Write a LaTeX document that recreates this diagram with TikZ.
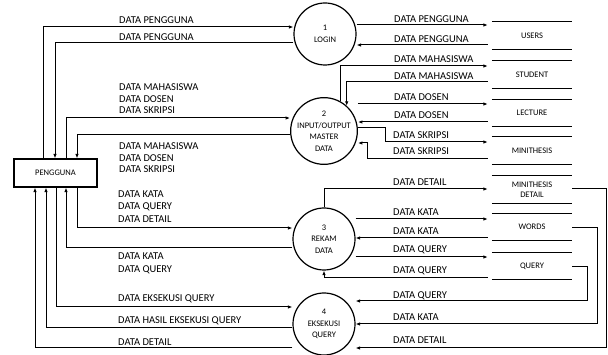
\documentclass[tikz,border=0pt]{standalone}
\usepackage{fontspec}
\setmainfont{Carlito}
\usetikzlibrary{arrows.meta}

\tikzset{
  proc/.style={draw, circle, line width=1.2pt, minimum size=62pt, inner sep=0pt,
               align=center, font=\fontsize{8.5}{11.5}\selectfont},
  ent/.style={draw, line width=1.2pt, minimum width=83pt, minimum height=28pt,
              font=\fontsize{8.5}{10}\selectfont},
  store/.style={minimum width=80pt, minimum height=27pt, inner sep=0pt,
                align=center, font=\fontsize{8.5}{10}\selectfont},
  storeline/.style={line width=1.1pt},
  flow/.style={line width=1pt, -{Latex[length=4.5pt,width=3.5pt]}},
  tostore/.style={flow, shorten >=4pt},
  fromstore/.style={flow, shorten <=4pt},
  lbl/.style={anchor=base west, inner sep=0pt, font=\fontsize{10.5}{12}\selectfont},
}

\begin{document}
\begin{tikzpicture}[x=1pt, y=-1pt]
  \useasboundingbox (0,0) rectangle (608,355);

  % external entity and processes
  \node[ent] (user) at (55.5,173) {PENGGUNA};
  \node[proc] (c1) at (325,34) {1\\LOGIN};
  \node[proc] (c2) at (324,131) {2\\INPUT/OUTPUT\\MASTER\\DATA};
  \node[proc] (c3) at (324,239) {3\\REKAM\\DATA};
  \node[proc] (c4) at (324,324) {4\\EKSEKUSI\\QUERY};

  % data stores
  \node[store] (users) at (532,35.5) {USERS};
  \node[store] (student) at (532,74.5) {STUDENT};
  \node[store] (lecture) at (532,113) {LECTURE};
  \node[store] (mini) at (532,150.5) {MINITHESIS};
  \node[store] (mdetail) at (532,189.5) {MINITHESIS\\DETAIL};
  \node[store] (words) at (532,227) {WORDS};
  \node[store] (query) at (532,266) {QUERY};
  \foreach \s in {users,student,lecture,mini,mdetail,words,query}
    \draw[storeline] (\s.north west) -- (\s.north east)
                     (\s.south west) -- (\s.south east);

  % pengguna <-> processes
  \draw[flow] (user.north -| 43,0) |- (c1.west |- 0,27);
  \draw[flow] (c1.west |- 0,43) -| (user.north -| 55,0);
  \draw[flow] (user.north -| 66,0) |- (c2.west |- 0,118);
  \draw[flow] (c2.west |- 0,135) -| (user.north -| 77,0);
  \draw[flow] (user.south -| 77,0) |- (c3.west |- 0,228);
  \draw[flow] (c3.west |- 0,248) -| (user.south -| 66,0);
  \draw[flow] (user.south -| 56,0) |- (c4.west |- 0,307);
  \draw[flow] (c4.west |- 0,328) -| (user.south -| 46,0);
  \draw[flow] (c4.west |- 0,348) -| (user.south -| 35,0);

  \node[lbl] (p1) at (119,24) {DATA PENGGUNA};
  \node[lbl] (p2) at (119,41) {DATA PENGGUNA};
  \foreach \t [count=\i] in {DATA MAHASISWA, DATA DOSEN, DATA SKRIPSI} {
    \node[lbl] (ma\i) at (119,79.5+11.5*\i) {\t};
    \node[lbl] (mb\i) at (119,138.5+11.5*\i) {\t};
  }
  \foreach \t [count=\i] in {DATA KATA, DATA QUERY, DATA DETAIL}
    \node[lbl] (ka\i) at (118,185+12.5*\i) {\t};
  \foreach \t [count=\i] in {DATA KATA, DATA QUERY}
    \node[lbl] (kb\i) at (118,247+13*\i) {\t};
  \node[lbl] (e1) at (118,302) {DATA EKSEKUSI QUERY};
  \node[lbl] (e2) at (118,324) {DATA HASIL EKSEKUSI QUERY};
  \node[lbl] (e3) at (118,346) {DATA DETAIL};

  % processes <-> data stores
  \draw[tostore] (c1.east |- 0,25) -- (users.west |- 0,25);
  \draw[fromstore] (users.west |- 0,45) -- (c1.east |- 0,45);
  \draw[tostore] (c2.61) |- (student.west |- 0,66);
  \draw[fromstore] (student.west |- 0,82) -| (c2.48);
  \draw[tostore] (c2.east |- 0,104) -- (lecture.west |- 0,104);
  \draw[fromstore] (lecture.west |- 0,122) -- (c2.east |- 0,122);
  \draw[tostore] (c2.east |- 0,128) -| (385,142) -- (mini.west |- 0,142);
  \draw[fromstore] (mini.west |- 0,159) -| (367,143) -- (c2.east |- 0,143);
  \draw[tostore] (c3.north) |- (mdetail.west |- 0,189);
  \draw[tostore] (c3.east |- 0,219) -- (words.west |- 0,219);
  \draw[fromstore] (words.west |- 0,238) -- (c3.east |- 0,238);
  \draw[tostore] (c3.east |- 0,257) -- (query.west |- 0,257);
  \draw[fromstore] (query.west |- 0,278) -| (c3.south);
  \draw[flow] (query.east |- 0,267) -| (587,301) -- (c4.east |- 0,301);
  \draw[flow] (words.east |- 0,228) -| (597,324) -- (c4.east |- 0,324);
  \draw[flow] (mdetail.east |- 0,189) -| (606,348) -- (c4.east |- 0,348);

  \node[lbl] (r1) at (394,23) {DATA PENGGUNA};
  \node[lbl] (r2) at (394,43) {DATA PENGGUNA};
  \node[lbl] (r3) at (394,63) {DATA MAHASISWA};
  \node[lbl] (r4) at (394,80) {DATA MAHASISWA};
  \node[lbl] (r5) at (394,101) {DATA DOSEN};
  \node[lbl] (r6) at (394,119) {DATA DOSEN};
  \node[lbl] (r7) at (393,139) {DATA SKRIPSI};
  \node[lbl] (r8) at (393,155) {DATA SKRIPSI};
  \node[lbl] (r9) at (393,186) {DATA DETAIL};
  \node[lbl] (r10) at (393,216) {DATA KATA};
  \node[lbl] (r11) at (393,235) {DATA KATA};
  \node[lbl] (r12) at (393,253) {DATA QUERY};
  \node[lbl] (r13) at (393,274) {DATA QUERY};
  \node[lbl] (r14) at (393,299) {DATA QUERY};
  \node[lbl] (r15) at (393,321) {DATA KATA};
  \node[lbl] (r16) at (393,344) {DATA DETAIL};
\end{tikzpicture}
\end{document}
